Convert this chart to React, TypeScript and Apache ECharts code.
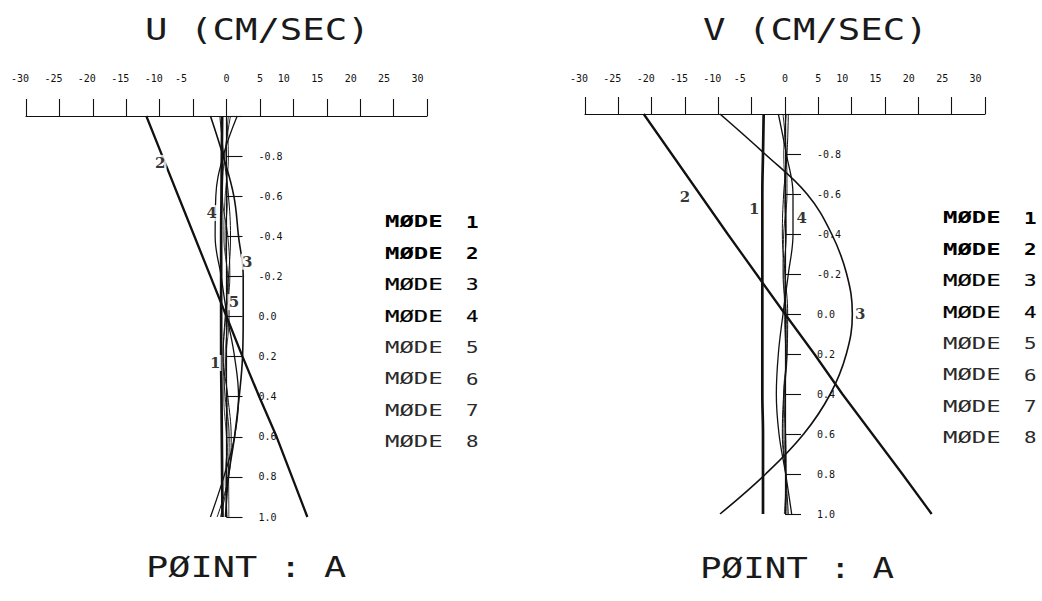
import { useEffect, useRef } from "react";
import * as echarts from "echarts";

// Depth levels (non-dimensional, -1 = surface, 1 = bottom)
const DEPTHS = [-1, -0.8, -0.6, -0.4, -0.2, 0, 0.2, 0.4, 0.6, 0.8, 1];

// U component (cm/s) of each vertical mode at the depth levels
const U_MODE_1 = [-0.65, -0.7, -0.75, -0.8, -0.8, -0.8, -0.8, -0.75, -0.7, -0.65, -0.6];
const U_MODE_2 = [-12, -9.6, -7.2, -4.8, -2.4, 0, 2.4, 4.9, 7.5, 9.8, 12.1];
const U_MODE_3 = [-2.4, -0.5, 1.1, 1.8, 2.5, 2.5, 2.4, 1.9, 1.2, 0.3, -0.15];
const U_MODE_4 = [1.6, -0.5, -1.6, -1.7, -0.8, 0.1, 1.2, 1.8, 1.2, -0.4, -2.4];
const U_MODE_5 = [-1.0, -0.4, 0.3, 0.6, 0.3, -0.2, -0.5, 0.2, 0.7, 0.3, -1.4];
const U_MODE_6 = [0.6, -0.3, -0.6, 0.2, 0.5, -0.1, -0.5, -0.2, 0.4, 0.2, -0.9];
const U_MODE_7 = [0, 0.3, -0.2, -0.4, 0.2, 0.4, -0.1, -0.4, 0, 0.3, 0.35];
const U_MODE_8 = [0.3, -0.1, 0.2, -0.2, 0.1, 0.2, -0.2, 0.1, 0.2, -0.2, 0.1];

// V component (cm/s) of each vertical mode at the depth levels
const V_MODE_1 = [-3.2, -3.3, -3.4, -3.4, -3.4, -3.4, -3.4, -3.4, -3.3, -3.3, -3.3];
const V_MODE_2 = [-21.2, -17, -12.8, -8.6, -4.3, 0, 4.4, 8.6, 13.1, 17.6, 22];
const V_MODE_3 = [-9.75, -3.0, 3.3, 7.0, 9.25, 10.1, 9.2, 6.8, 2.8, -2.9, -9.75];
const V_MODE_4 = [-1.0, 0.2, 1.2, 1.2, 0.5, -0.3, -1.0, -1.3, -0.9, 0.1, 1.0];
const V_MODE_5 = [0.5, 0.3, -0.2, -0.4, 0.0, 0.4, 0.3, -0.2, -0.4, 0.1, 0.5];
const V_MODE_6 = [-0.3, 0.2, 0.3, -0.2, -0.3, 0.2, 0.3, -0.1, -0.3, 0.1, 0.3];
const V_MODE_7 = [0.2, -0.2, 0.1, 0.2, -0.2, 0.0, 0.2, -0.2, 0.1, 0.2, -0.1];
const V_MODE_8 = [0.1, 0.1, -0.1, 0.1, 0.0, -0.1, 0.1, 0.0, -0.1, 0.1, 0.0];

const U_MODES = [U_MODE_1, U_MODE_2, U_MODE_3, U_MODE_4, U_MODE_5, U_MODE_6, U_MODE_7, U_MODE_8];
const V_MODES = [V_MODE_1, V_MODE_2, V_MODE_3, V_MODE_4, V_MODE_5, V_MODE_6, V_MODE_7, V_MODE_8];

const MODE_NUMBERS = ["1", "2", "3", "4", "5", "6", "7", "8"];

// Mode numbers written beside the curves: [u or v, depth, mode]
const U_TAGS: [number, number, string][] = [
  [-9.9, -0.766, "2"],
  [-2.2, -0.516, "4"],
  [3.1, -0.273, "3"],
  [1.1, -0.072, "5"],
  [-1.7, 0.232, "1"],
];
const V_TAGS: [number, number, string][] = [
  [-15, -0.583, "2"],
  [-4.6, -0.523, "1"],
  [2.5, -0.481, "4"],
  [11.3, 0.0, "3"],
];

const TITLES = ["U (CM/SEC)", "V (CM/SEC)"];
const FOOTER = "PØINT : A";
const LEGEND_WORD = "MØDE";

const INK = "#111";
const MONO = '"DejaVu Sans Mono", monospace';
const LINE_WIDTHS = [2.7, 2.3, 1.6, 1.3, 1.0, 0.9, 0.8, 0.7];

const GRIDS = [
  { left: 26, top: 116, width: 401, height: 401 },
  { left: 585, top: 114, width: 400, height: 400 },
];

function profile(values: number[]) {
  return values.map((v, i) => [v, DEPTHS[i]]);
}

function xAxisFor(gridIndex: number, margin: number) {
  return {
    gridIndex,
    type: "value",
    min: -30,
    max: 30,
    interval: 5,
    position: "top",
    axisLine: { show: true, onZero: false, lineStyle: { color: INK, width: 1.2 } },
    axisTick: { show: true, length: 17, lineStyle: { color: INK, width: 1.1 } },
    splitLine: { show: false },
    axisLabel: {
      margin,
      color: INK,
      fontFamily: MONO,
      fontSize: 10,
      formatter: (v: number) => {
        if (v === 0 || v === 5) return `{c|${v}}`;
        if (v === -5) return `{b|${v}}`;
        if (v >= 10) return `{p|${v}}`;
        return `{a|${v}}`;
      },
      rich: {
        c: { fontFamily: MONO, fontSize: 10, color: INK },
        a: { fontFamily: MONO, fontSize: 10, color: INK, padding: [0, 12, 0, 0] },
        b: { fontFamily: MONO, fontSize: 10, color: INK, padding: [0, 24, 0, 0] },
        p: { fontFamily: MONO, fontSize: 10, color: INK, padding: [0, 19, 0, 0] },
      },
    },
  };
}

// Depth axis drawn through u = 0 (the middle of the -30..30 range)
function yAxisFor(gridIndex: number) {
  return {
    gridIndex,
    type: "value",
    min: -1,
    max: 1,
    interval: 0.2,
    inverse: true,
    position: "left",
    offset: -GRIDS[gridIndex].width / 2,
    axisLine: { show: true, onZero: false, lineStyle: { color: INK, width: 1.2 } },
    axisTick: { show: true, inside: true, length: 16, lineStyle: { color: INK, width: 1.1 } },
    splitLine: { show: false },
    axisLabel: {
      inside: true,
      margin: 32,
      color: INK,
      fontFamily: MONO,
      fontSize: 10,
      formatter: (v: number) => (Math.abs(v + 1) < 1e-9 ? "" : v.toFixed(1)),
    },
  };
}

function modeSeries(modes: number[][], axisIndex: number) {
  return modes.map((vals, i) => ({
    type: "line",
    name: `${LEGEND_WORD} ${MODE_NUMBERS[i]}`,
    xAxisIndex: axisIndex,
    yAxisIndex: axisIndex,
    data: profile(vals),
    smooth: i === 1 ? false : 0.4,
    showSymbol: false,
    symbol: "none",
    silent: true,
    lineStyle: { color: INK, width: LINE_WIDTHS[i] },
    z: 2 + (8 - i) * 0.01,
  }));
}

function tagSeries(tags: [number, number, string][], axisIndex: number) {
  return {
    type: "scatter",
    xAxisIndex: axisIndex,
    yAxisIndex: axisIndex,
    data: tags,
    symbolSize: 2,
    silent: true,
    itemStyle: { color: "rgba(0,0,0,0)" },
    z: 5,
    label: {
      show: true,
      position: "inside",
      formatter: (p: any) => p.data[2],
      fontFamily: '"DejaVu Serif", serif',
      fontWeight: "bold",
      fontSize: 15,
      color: "#000",
      backgroundColor: "#fff",
      padding: [1, 1, 0, 1],
    },
  };
}

function legendTexts(x: number, digitX: number, y0: number) {
  const out: any[] = [];
  MODE_NUMBERS.forEach((n, i) => {
    const y = y0 + i * 31.4;
    const heavy = i < 2;
    const medium = i >= 2 && i < 4;
    const style = {
      fontFamily: MONO,
      fontSize: 16,
      fontWeight: heavy ? "bold" : "normal",
      fill: i >= 4 ? "#2a2a2a" : "#000",
      stroke: medium ? "#000" : undefined,
      lineWidth: medium ? 0.2 : 0,
      align: "left",
      verticalAlign: "middle",
    };
    out.push({ type: "text", x, y, scaleX: 1.5, silent: true, style: { ...style, text: LEGEND_WORD } });
    out.push({ type: "text", x: digitX, y, scaleX: 1.3, silent: true, style: { ...style, text: n } });
  });
  return out;
}

function bigText(text: string, x: number, y: number, size: number, scaleX: number) {
  return {
    type: "text",
    x,
    y,
    scaleX,
    silent: true,
    style: {
      text,
      fontFamily: MONO,
      fontSize: size,
      fill: "#1a1a1a",
      align: "left",
      verticalAlign: "middle",
    },
  };
}

export default function App() {
  const ref = useRef<HTMLDivElement>(null);

  useEffect(() => {
    if (!ref.current) return;
    const chart = echarts.init(ref.current, undefined, { renderer: "svg" });
    chart.setOption({
      animation: false,
      backgroundColor: "#fff",
      grid: GRIDS.map((g) => ({ ...g, containLabel: false })),
      xAxis: [xAxisFor(0, 33), xAxisFor(1, 31)],
      yAxis: [yAxisFor(0), yAxisFor(1)],
      series: [
        ...modeSeries(U_MODES, 0),
        ...modeSeries(V_MODES, 1),
        tagSeries(U_TAGS, 0),
        tagSeries(V_TAGS, 1),
      ],
      graphic: [
        bigText(TITLES[0], 145, 30, 30, 1.245),
        bigText(TITLES[1], 703, 30, 30, 1.245),
        bigText(FOOTER, 146, 568, 28, 1.32),
        bigText(FOOTER, 700, 568, 28, 1.28),
        ...legendTexts(385, 466, 222),
        ...legendTexts(943, 1024, 218),
      ],
    });
    return () => chart.dispose();
  }, []);

  return (
    <div
      ref={ref}
      style={{ position: "fixed", left: 0, top: 0, width: 1042, height: 601, background: "#fff" }}
    />
  );
}
